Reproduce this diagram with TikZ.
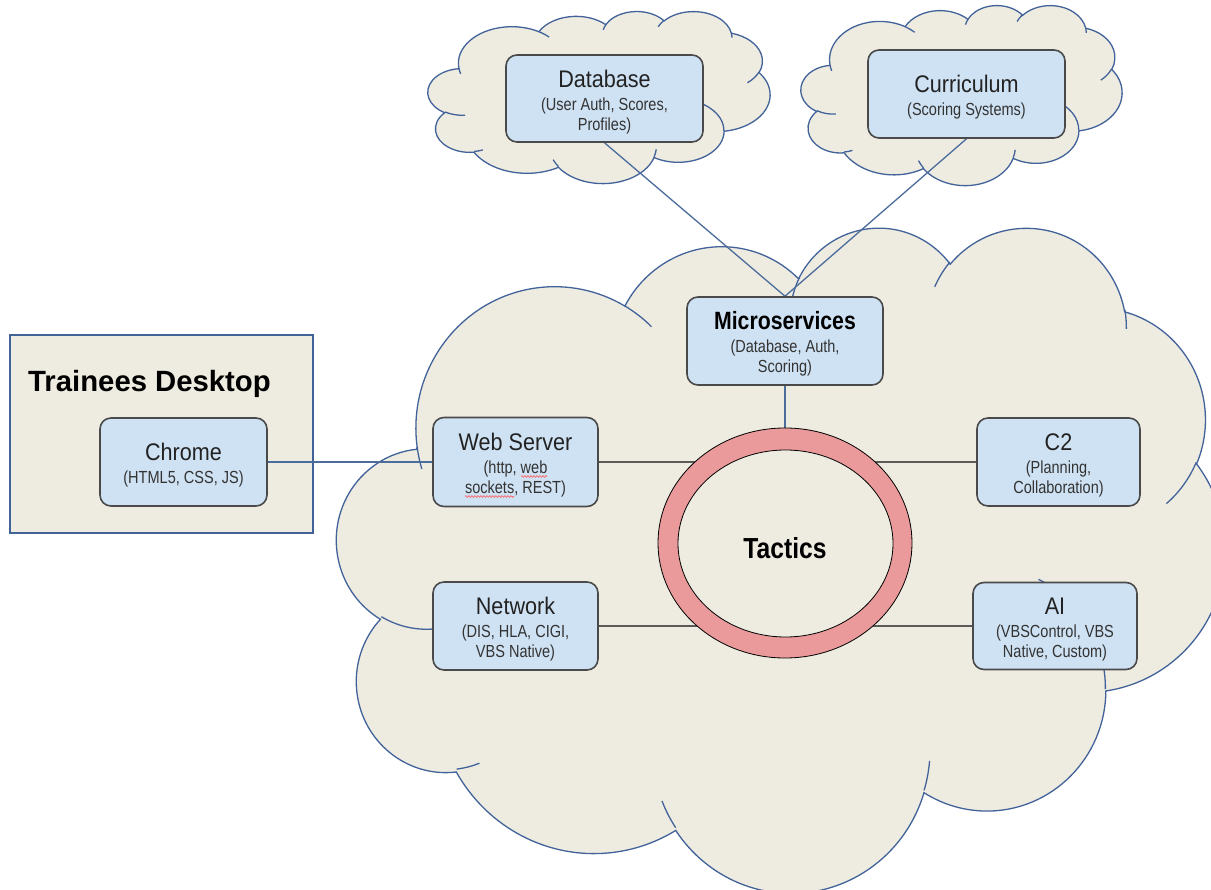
\documentclass[tikz,border=0pt]{standalone}
\usepackage{fontspec}
\setmainfont{Liberation Sans}
\newfontfamily\ttlfont{Liberation Sans}[FakeStretch=0.9]
\newfontfamily\subfont{Liberation Sans}[FakeStretch=0.83]
\newfontfamily\condfont{Liberation Sans}[FakeStretch=0.85]
\usetikzlibrary{shapes.geometric,decorations.pathmorphing}
\definecolor{cloudfill}{HTML}{EEEBE1}
\definecolor{cloudline}{HTML}{42639A}
\definecolor{edgeblue}{HTML}{4C6C9C}
\definecolor{boxfill}{HTML}{CFE2F3}
\definecolor{boxline}{HTML}{4A4A4A}
\definecolor{ringfill}{HTML}{EA9A9A}
\definecolor{linkgray}{HTML}{5A5A5A}
\definecolor{titlecol}{HTML}{222222}
\definecolor{subcol}{HTML}{333333}
\pgfdeclarelayer{back}
\pgfdeclarelayer{links}
\pgfsetlayers{back,links,main}
% arc of the preset cloud: x radius, y radius, start angle, sweep (visual angles)
\newcommand\carc[4]{\pgfextra{%
  \pgfmathparse{atan2((#1)*sin(#3),(#2)*cos(#3))}\xdef\cA{\pgfmathresult}%
  \pgfmathparse{atan2((#1)*sin((#3)+(#4)),(#2)*cos((#3)+(#4)))}\xdef\cB{\pgfmathresult}%
  \pgfmathparse{\cB+360*round((\cA+(#4)-\cB)/360)}\xdef\cB{\pgfmathresult}%
 } arc[start angle=\cA, end angle=\cB, x radius=#1, y radius=#2]}
\newcommand\cloudpath{(39.00,143.70)
  \carc{67.53}{91.90}{-190.4875}{123.7805}
  \carc{53.33}{72.67}{-144.1024}{89.9452}
  \carc{43.65}{59.45}{-145.8079}{99.7230}
  \carc{48.57}{65.95}{-130.9861}{117.2417}
  \carc{53.33}{72.73}{-78.7089}{109.0269}
  \carc{67.75}{92.20}{-46.2673}{130.2690}
  \carc{57.85}{78.67}{0.6250}{114.0333}
  \carc{67.52}{92.15}{22.4516}{115.1726}
  \carc{77.20}{105.43}{66.2426}{75.7110}
  \carc{43.60}{59.18}{-274.9421}{146.7356}
  \carc{43.45}{59.45}{-246.8285}{152.5189} -- cycle}
\newcommand\cloudinner{(46.93,261.77) \carc{43.45}{59.45}{86.7420}{26.4295}
  (69.28,348.99) \carc{43.60}{59.18}{73.6105}{11.4475}
  (164.78,390.90) \carc{67.52}{92.15}{137.6242}{14.0811}
  (288.27,347.51) \carc{67.52}{92.15}{6.4533}{15.9984}
  (341.29,229.54) \carc{57.85}{78.67}{-70.2924}{70.9174}
  (417.98,153.54) \carc{53.33}{72.73}{30.3180}{27.7515}
  (383.24,54.26) \carc{48.57}{65.95}{-13.7443}{14.8538}
  (290.78,39.52) \carc{48.57}{65.95}{-149.1815}{18.1889}
  (221.41,47.20) \carc{43.65}{59.45}{-163.4943}{17.6851}
  (140.00,51.92) \carc{67.53}{91.90}{-66.7070}{12.3194}
  (41.27,157.89) \carc{67.53}{91.90}{157.6544}{11.8582}}
\newcommand\ttl[1]{{\ttlfont\fontsize{24}{28}\selectfont\color{titlecol}\rule{0pt}{24pt}#1}}
\newcommand\bttl[1]{{\condfont\bfseries\fontsize{25}{28}\selectfont\color{black}\rule{0pt}{24pt}#1}}
\begin{document}
\begin{tikzpicture}[x=1pt,y=-1pt,
  cloudshape/.style={fill=cloudfill, draw=cloudline, line width=1.3pt},
  cloudarcs/.style={draw=cloudline, line width=1.3pt},
  box/.style={draw=boxline, line width=1.6pt, fill=boxfill, rounded corners=11pt,
    inner sep=0pt, align=center, text=subcol, font=\subfont\fontsize{17.5}{20}\selectfont},
  bluelink/.style={draw=edgeblue, line width=1.3pt},
  graylink/.style={draw=linkgray, line width=1.6pt},
  squiggle/.style={draw=red!65!white, line width=0.6pt, decorate,
    decoration={snake, amplitude=0.9pt, segment length=3pt}}]
\useasboundingbox (0,0) rectangle (1211,890);

% boxes
\node[box, minimum width=197pt, minimum height=87pt] (db) at (604.5,98.5)
  {\ttl{Database}\\[3pt](User Auth, Scores,\\Profiles)};
\node[box, minimum width=197pt, minimum height=88pt] (cur) at (966.5,94)
  {\ttl{Curriculum}\\[3pt](Scoring Systems)};
\node[box, minimum width=167pt, minimum height=88pt] (chrome) at (183.5,462)
  {\ttl{Chrome}\\[3pt](HTML5, CSS, JS)};
\node[box, minimum width=165pt, minimum height=89pt] (ws) at (515.5,462)
  {\ttl{Web Server}\\[3pt](http, web\\sockets, REST)};
\node[box, minimum width=165pt, minimum height=88pt] (nw) at (515.5,626)
  {\ttl{Network}\\[3pt](DIS, HLA, CIGI,\\VBS Native)};
\node[box, minimum width=196pt, minimum height=88pt] (ms) at (785,341)
  {\bttl{Microservices}\\[3pt](Database, Auth,\\Scoring)};
\node[box, minimum width=163pt, minimum height=88pt] (c2) at (1058.5,462)
  {\ttl{C2}\\[3pt](Planning,\\Collaboration)};
\node[box, minimum width=164pt, minimum height=87pt] (ai) at (1055,626)
  {\ttl{AI}\\[3pt](VBSControl, VBS\\Native, Custom)};

% tactics ring
\node[ellipse, draw=black, line width=0.8pt, fill=ringfill, inner sep=0pt,
  minimum width=254pt, minimum height=230pt] (ring) at (785,543) {};
\node[ellipse, draw=black, line width=0.8pt, fill=cloudfill, inner sep=0pt,
  minimum width=215pt, minimum height=187pt] (ringin) at (785.5,543.5) {};
\node[font=\condfont\bfseries\fontsize{29}{31}\selectfont] (tactics) at (785,548) {Tactics};

% squiggly spell-check marks
\draw[squiggle] (521,476.5) -- (547,476.5);
\draw[squiggle] (465,496.5) -- (514,496.5);

\begin{pgfonlayer}{back}
  \fill[white] (0,0) rectangle (1211,890);
  \begin{scope}
    \clip (0,0) rectangle (1211,890);
    \begin{scope}[shift={(337,226)}, xscale=2.0556, yscale=1.5394]
      \path[cloudshape] \cloudpath;
      \path[cloudarcs] \cloudinner;
    \end{scope}
    \begin{scope}[shift={(428,11)}, xscale=0.79167, yscale=0.39815]
      \path[cloudshape] \cloudpath;
      \path[cloudarcs] \cloudinner;
    \end{scope}
    \begin{scope}[shift={(801,5)}, xscale=0.74306, yscale=0.41667]
      \path[cloudshape] \cloudpath;
      \path[cloudarcs] \cloudinner;
    \end{scope}
  \end{scope}
  \node[draw=cloudline, fill=cloudfill, line width=1.3pt, inner sep=0pt,
    minimum width=303pt, minimum height=198pt] (desk) at (161.5,434) {};
  \node[anchor=base west, inner sep=0pt, font=\bfseries\fontsize{29.3}{32}\selectfont]
    (desklabel) at (28,392) {Trainees Desktop};
\end{pgfonlayer}

\begin{pgfonlayer}{links}
  \draw[bluelink] (db.south) -- (ms.north);
  \draw[bluelink] (cur.south) -- (ms.north);
  \draw[bluelink] (chrome.east) -- (ws.west);
  \draw[bluelink] (ms.south) -- (ring.center);
  \draw[graylink] (ws.east) -- (ws.east -| ring.center);
  \draw[graylink] (c2.west) -- (c2.west -| ring.center);
  \draw[graylink] (nw.east) -- (nw.east -| ring.center);
  \draw[graylink] (ai.west) -- (ai.west -| ring.center);
\end{pgfonlayer}
\end{tikzpicture}
\end{document}
